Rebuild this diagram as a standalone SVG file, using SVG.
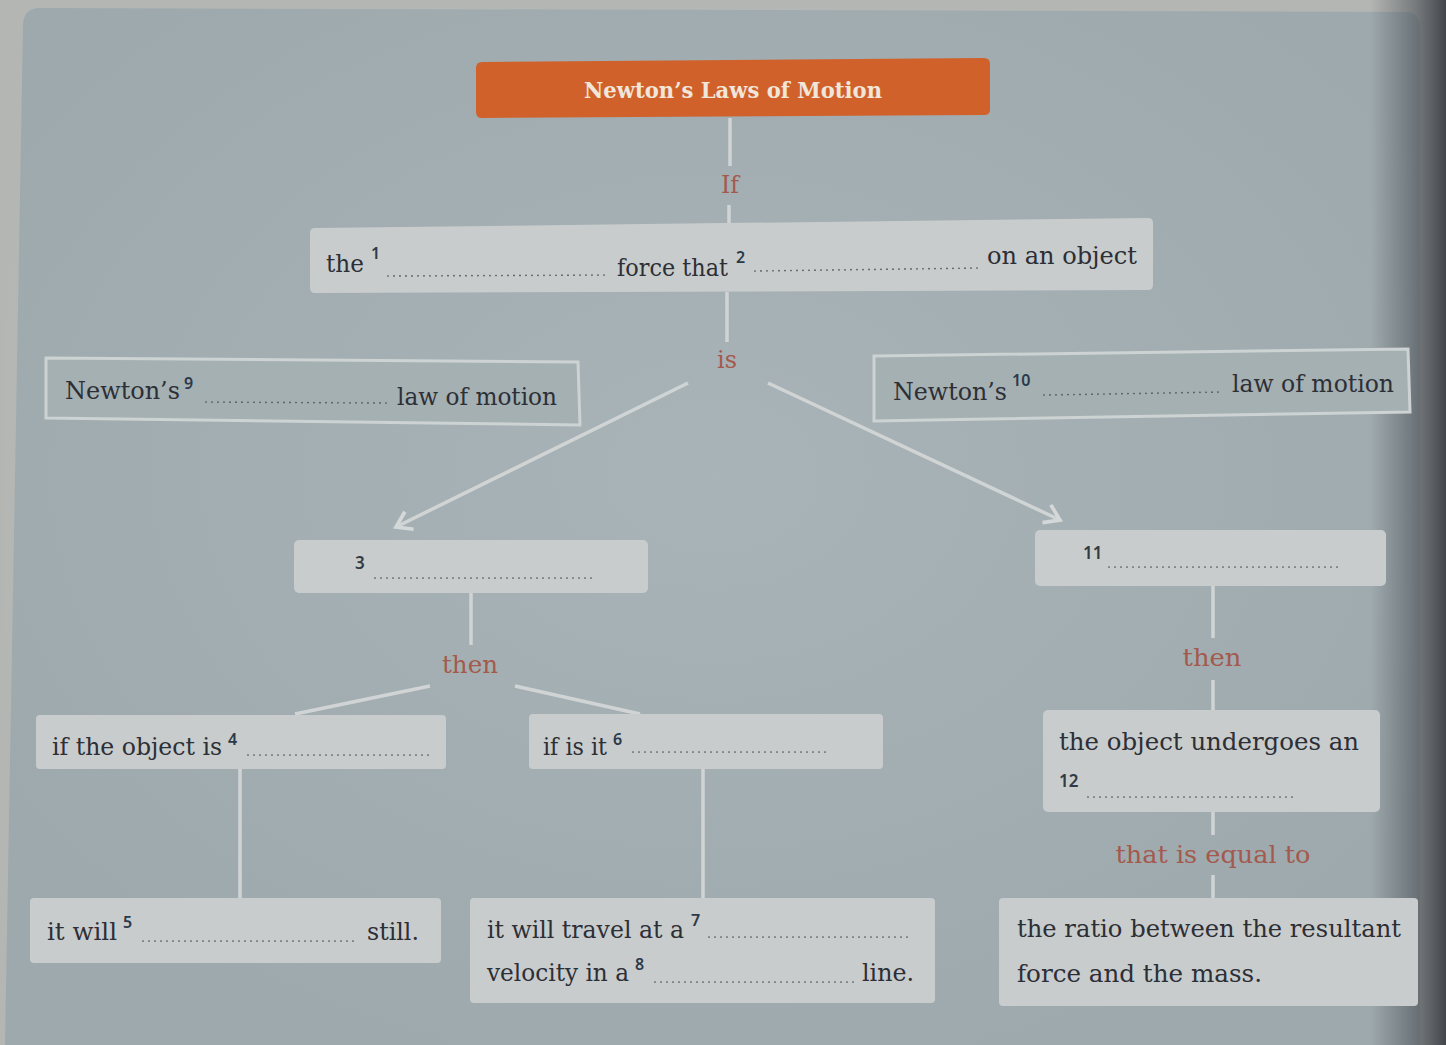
<svg xmlns="http://www.w3.org/2000/svg" width="1446" height="1045" viewBox="0 0 1446 1045">
<defs>
<linearGradient id="gutter" x1="0" y1="0" x2="1" y2="0">
<stop offset="0" stop-color="#3a3f46" stop-opacity="0"/>
<stop offset="0.6" stop-color="#3a3f46" stop-opacity="0.5"/>
<stop offset="1" stop-color="#2e3238" stop-opacity="0.85"/>
</linearGradient>
<radialGradient id="glow" cx="0.5" cy="0.45" r="0.6">
<stop offset="0" stop-color="#b4bec2" stop-opacity="0.5"/>
<stop offset="1" stop-color="#b4bec2" stop-opacity="0"/>
</radialGradient>
<marker id="chev" viewBox="0 0 20 20" refX="14" refY="10" markerWidth="7" markerHeight="7" orient="auto" markerUnits="strokeWidth">
<polyline points="2,2 14,10 2,18" fill="none" stroke="#d4d8d8" stroke-width="3"/>
</marker>
<style>
.box{fill:#c9cccc;}
.obox{fill:#a5b0b3;stroke:#cdd2d2;stroke-width:3;}
.t{font-family:"DejaVu Serif","Liberation Serif",serif;font-size:24px;fill:#2d2f36;}
.lab{font-family:"DejaVu Serif","Liberation Serif",serif;font-size:24px;fill:#a35a4d;text-anchor:middle;}
.sup{font-family:"Noto Sans","Open Sans",sans-serif;font-size:16px;fill:#2b3a4a;font-weight:600;}
.num{font-family:"Noto Sans","Open Sans",sans-serif;font-size:17px;fill:#333a44;font-weight:600;}
.dots{stroke:#4a4f58;stroke-width:1.7;stroke-dasharray:0 6;stroke-linecap:round;fill:none;}
.con{stroke:#d0d4d4;stroke-width:3.5;fill:none;}
</style>
</defs>
<rect width="1446" height="1045" fill="#b4b6b3"/>
<path d="M40 8 L1405 12 Q1420 12 1420 28 L1420 1045 L5 1045 L23 26 Q23 8 40 8 Z" fill="#9ea9ad"/>
<rect x="5" y="8" width="1415" height="1037" fill="url(#glow)"/>
<rect x="1370" y="0" width="76" height="1045" fill="url(#gutter)"/>

<g id="connectors">
<line class="con" x1="730" y1="118" x2="730" y2="166"/>
<line class="con" x1="729" y1="205" x2="729" y2="228"/>
<line class="con" x1="727" y1="292" x2="727" y2="342"/>
<line class="con" x1="688" y1="383" x2="396" y2="527" marker-end="url(#chev)"/>
<line class="con" x1="768" y1="383" x2="1060" y2="520" marker-end="url(#chev)"/>
<line class="con" x1="471" y1="593" x2="471" y2="645"/>
<line class="con" x1="430" y1="686" x2="295" y2="714"/>
<line class="con" x1="515" y1="686" x2="640" y2="714"/>
<line class="con" x1="240" y1="768" x2="240" y2="899"/>
<line class="con" x1="703" y1="768" x2="703" y2="898"/>
<line class="con" x1="1213" y1="586" x2="1213" y2="638"/>
<line class="con" x1="1213" y1="680" x2="1213" y2="710"/>
<line class="con" x1="1213" y1="812" x2="1213" y2="835"/>
<line class="con" x1="1213" y1="875" x2="1213" y2="900"/>
<text class="lab" x="730" y="193" textLength="18" lengthAdjust="spacingAndGlyphs">If</text>
<text class="lab" x="727" y="368" textLength="20" lengthAdjust="spacingAndGlyphs">is</text>
<text class="lab" x="470" y="673" textLength="56" lengthAdjust="spacingAndGlyphs">then</text>
<text class="lab" x="1212" y="666" textLength="59" lengthAdjust="spacingAndGlyphs">then</text>
<text class="lab" x="1213" y="863" textLength="195" lengthAdjust="spacingAndGlyphs">that is equal to</text>
</g>

<g id="title">
<path d="M482 62 L984 58 Q990 58 990 64 L990 110 Q990 115 984 115 L482 118 Q476 118 476 112 L476 68 Q476 62 482 62 Z" fill="#d0612b"/>
<text x="733" y="98" text-anchor="middle" font-family="DejaVu Serif,Liberation Serif,serif" font-weight="bold" font-size="23" fill="#f1e6da" textLength="298" lengthAdjust="spacingAndGlyphs">Newton’s Laws of Motion</text>
</g>

<g id="condition">
<path d="M315 228 L1148 218 Q1153 218 1153 223 L1153 285 Q1153 290 1148 290 L315 293 Q310 293 310 288 L310 233 Q310 228 315 228 Z" class="box"/>
<text class="t" x="326" y="272" textLength="38" lengthAdjust="spacingAndGlyphs">the</text>
<text class="sup" x="371" y="259">1</text>
<line class="dots" x1="388" y1="276" x2="606" y2="275"/>
<text class="t" x="617" y="276" textLength="111" lengthAdjust="spacingAndGlyphs">force that</text>
<text class="sup" x="736" y="263">2</text>
<line class="dots" x1="755" y1="271" x2="977" y2="268"/>
<text class="t" x="987" y="264" textLength="150" lengthAdjust="spacingAndGlyphs">on an object</text>
</g>

<g id="law-left">
<path d="M46 358 L578 362 L580 425 L46 418 Z" class="obox"/>
<text class="t" x="65" y="399" textLength="115" lengthAdjust="spacingAndGlyphs">Newton’s</text>
<text class="sup" x="184" y="389">9</text>
<line class="dots" x1="206" y1="402" x2="387" y2="403"/>
<text class="t" x="397" y="405" textLength="160" lengthAdjust="spacingAndGlyphs">law of motion</text>
</g>

<g id="law-right">
<path d="M874 356 L1408 349 L1410 412 L874 421 Z" class="obox"/>
<text class="t" x="893" y="400" textLength="114" lengthAdjust="spacingAndGlyphs">Newton’s</text>
<text class="sup" x="1012" y="386">10</text>
<line class="dots" x1="1044" y1="395" x2="1222" y2="392"/>
<text class="t" x="1232" y="392" textLength="162" lengthAdjust="spacingAndGlyphs">law of motion</text>
</g>

<g id="blank3">
<rect class="box" x="294" y="540" width="354" height="53" rx="5"/>
<text class="num" x="355" y="569">3</text>
<line class="dots" x1="375" y1="578" x2="596" y2="578"/>
</g>

<g id="blank11">
<rect class="box" x="1035" y="530" width="351" height="56" rx="5"/>
<text class="num" x="1083" y="559">11</text>
<line class="dots" x1="1109" y1="567" x2="1340" y2="567"/>
</g>

<g id="case4">
<rect class="box" x="36" y="715" width="410" height="54" rx="4"/>
<text class="t" x="52" y="755" textLength="170" lengthAdjust="spacingAndGlyphs">if the object is</text>
<text class="sup" x="228" y="745">4</text>
<line class="dots" x1="248" y1="755" x2="430" y2="755"/>
</g>

<g id="case6">
<rect class="box" x="529" y="714" width="354" height="55" rx="4"/>
<text class="t" x="543" y="755" textLength="64" lengthAdjust="spacingAndGlyphs">if is it</text>
<text class="sup" x="613" y="745">6</text>
<line class="dots" x1="633" y1="752" x2="829" y2="752"/>
</g>

<g id="accel">
<rect class="box" x="1043" y="710" width="337" height="102" rx="5"/>
<text class="t" x="1059" y="750" textLength="300" lengthAdjust="spacingAndGlyphs">the object undergoes an</text>
<text class="num" x="1059" y="787">12</text>
<line class="dots" x1="1088" y1="797" x2="1298" y2="797"/>
</g>

<g id="result5">
<rect class="box" x="30" y="898" width="411" height="65" rx="4"/>
<text class="t" x="47" y="940" textLength="70" lengthAdjust="spacingAndGlyphs">it will</text>
<text class="sup" x="123" y="928">5</text>
<line class="dots" x1="143" y1="941" x2="358" y2="941"/>
<text class="t" x="367" y="940" textLength="52" lengthAdjust="spacingAndGlyphs">still.</text>
</g>

<g id="result7">
<rect class="box" x="470" y="898" width="465" height="105" rx="4"/>
<text class="t" x="487" y="938" textLength="197" lengthAdjust="spacingAndGlyphs">it will travel at a</text>
<text class="sup" x="691" y="926">7</text>
<line class="dots" x1="709" y1="937" x2="910" y2="937"/>
<text class="t" x="487" y="981" textLength="142" lengthAdjust="spacingAndGlyphs">velocity in a</text>
<text class="sup" x="635" y="970">8</text>
<line class="dots" x1="655" y1="982" x2="855" y2="982"/>
<text class="t" x="862" y="981" textLength="52" lengthAdjust="spacingAndGlyphs">line.</text>
</g>

<g id="ratio">
<rect class="box" x="999" y="898" width="419" height="108" rx="4"/>
<text class="t" x="1017" y="937" textLength="384" lengthAdjust="spacingAndGlyphs">the ratio between the resultant</text>
<text class="t" x="1017" y="982" textLength="245" lengthAdjust="spacingAndGlyphs">force and the mass.</text>
</g>
</svg>
